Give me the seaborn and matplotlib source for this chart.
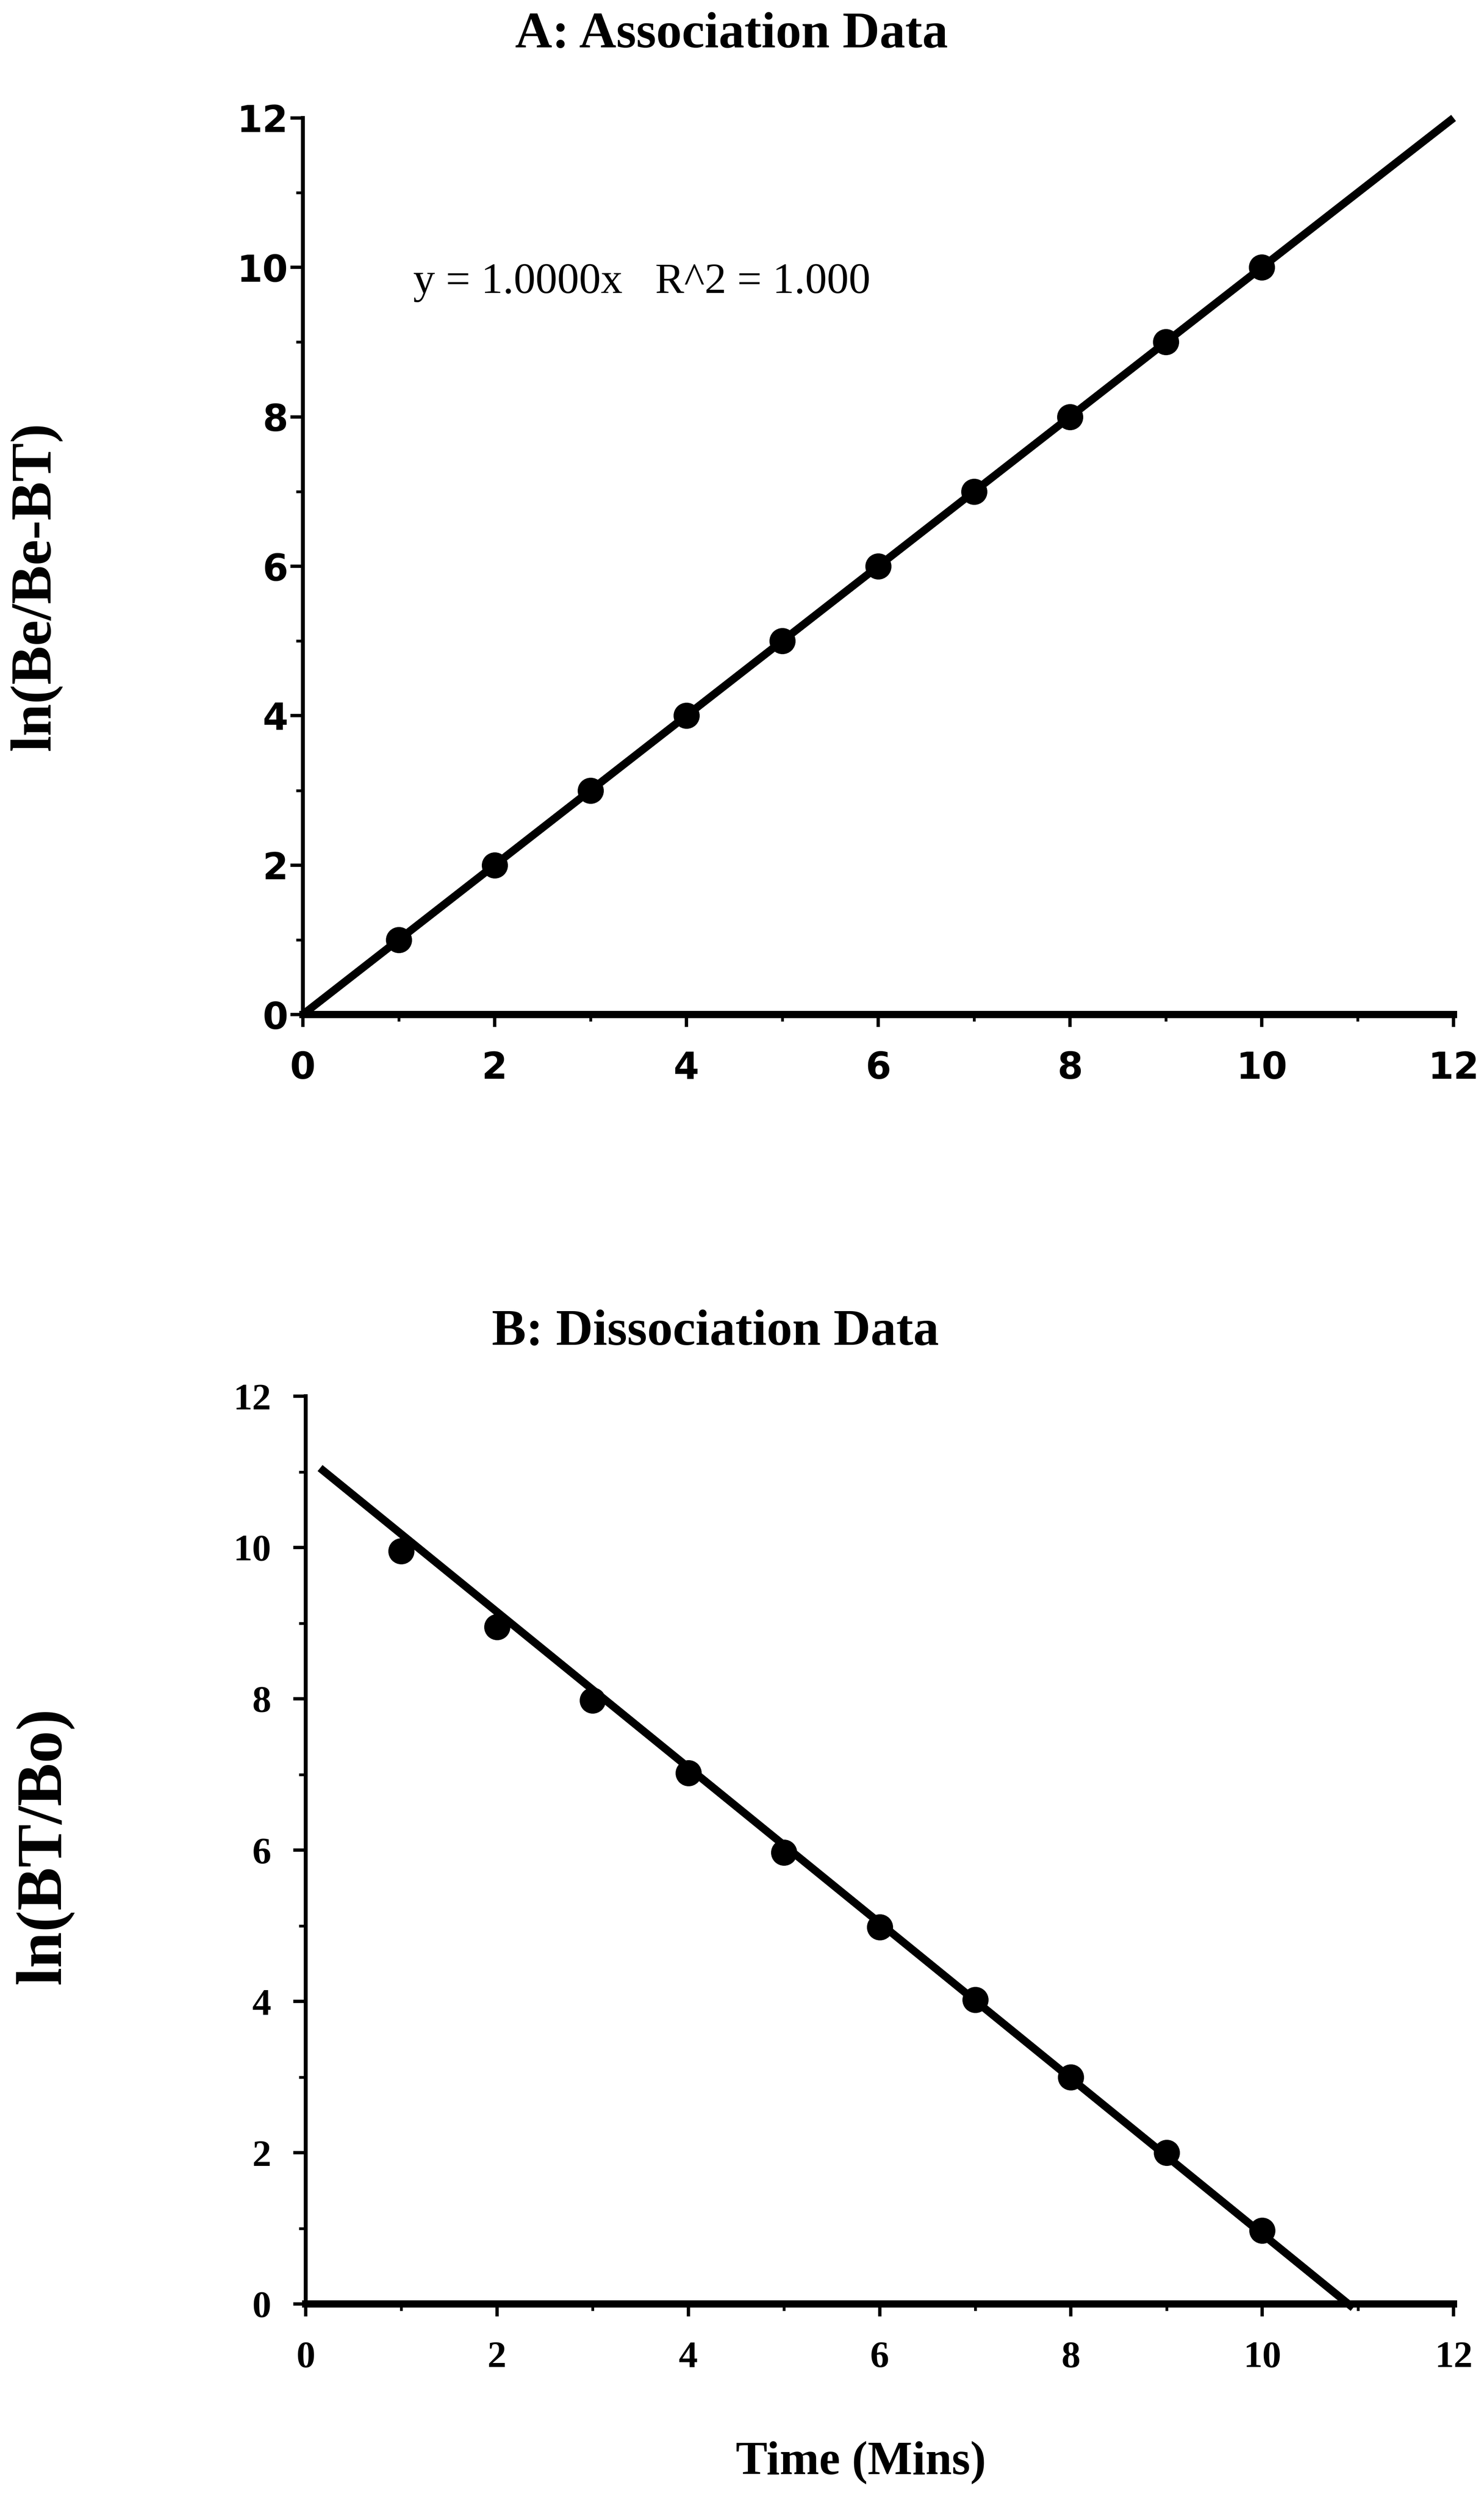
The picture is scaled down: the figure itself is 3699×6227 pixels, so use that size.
import numpy as np
import pandas as pd
import matplotlib
matplotlib.use("Agg")
import matplotlib.pyplot as plt
import seaborn as sns
from matplotlib.ticker import MultipleLocator

# ---------------- data ----------------
assoc_time = [1, 2, 3, 4, 5, 6, 7, 8, 9, 10]
assoc_ln = [1, 2, 3, 4, 5, 6, 7, 8, 9, 10]
assoc_fit_x = [0, 12]
assoc_fit_y = [0, 12]

dissoc_time = [1, 2, 3, 4, 5, 6, 7, 8, 9, 10]
dissoc_ln = [9.95, 8.95, 7.98, 7.02, 5.97, 4.98, 4.02, 3.0, 2.0, 0.97]
dissoc_fit_x = [0.15, 10.95]
dissoc_fit_y = [11.05, -0.05]

x_ticks = [0, 2, 4, 6, 8, 10, 12]
y_ticks = [0, 2, 4, 6, 8, 10, 12]

title_a = "A: Association Data"
title_b = "B: Dissociation Data"
ylabel_a = "ln(Be/Be-BT)"
ylabel_b = "ln(BT/Bo)"
xlabel_b = "Time (Mins)"
equation_a = "y = 1.0000x   R^2 = 1.000"

# ---------------- style ----------------
sns.set_theme(style="ticks")
plt.rcParams["font.family"] = ["DejaVu Sans"]
plt.rcParams["axes.facecolor"] = "white"
plt.rcParams["figure.facecolor"] = "white"
plt.rcParams["text.color"] = "black"
plt.rcParams["xtick.color"] = "black"
plt.rcParams["ytick.color"] = "black"
plt.rcParams["xtick.labelcolor"] = "black"
plt.rcParams["ytick.labelcolor"] = "black"

DPI = 100
fig = plt.figure(figsize=(3699 / DPI, 6227 / DPI), dpi=DPI)

ax_a = fig.add_axes([0.204, 0.594, 0.7755, 0.3588])
ax_b = fig.add_axes([0.206, 0.078, 0.7735, 0.3633])

serif = ["Liberation Serif", "DejaVu Serif"]

df_a = pd.DataFrame({"t": assoc_time, "v": assoc_ln})
df_af = pd.DataFrame({"t": assoc_fit_x, "v": assoc_fit_y})
df_b = pd.DataFrame({"t": dissoc_time, "v": dissoc_ln})
df_bf = pd.DataFrame({"t": dissoc_fit_x, "v": dissoc_fit_y})

for ax, pts, fit in [(ax_a, df_a, df_af), (ax_b, df_b, df_bf)]:
    sns.lineplot(data=fit, x="t", y="v", ax=ax, color="black", linewidth=14,
                 solid_capstyle="butt", clip_on=False, zorder=3)
    sns.scatterplot(data=pts, x="t", y="v", ax=ax, color="black", s=2200,
                    edgecolor="black", linewidth=0, zorder=4, clip_on=False)
    ax.set_xlim(0, 12)
    ax.set_ylim(0, 12)
    ax.set_xticks(x_ticks)
    ax.set_yticks(y_ticks)
    ax.xaxis.set_minor_locator(MultipleLocator(1))
    ax.yaxis.set_minor_locator(MultipleLocator(1))
    for s in ["top", "right"]:
        ax.spines[s].set_visible(False)
    ax.spines["bottom"].set_linewidth(13)
    ax.spines["left"].set_linewidth(7)
    ax.spines["bottom"].set_color("black")
    ax.spines["left"].set_color("black")
    ax.tick_params(axis="both", which="major", direction="out", length=22, width=6,
                   color="black", pad=22)
    ax.tick_params(axis="both", which="minor", direction="out", length=12, width=5,
                   color="black")
    ax.set_xlabel("")
    ax.set_ylabel("")

# panel A: sans-serif bold tick labels
for lab in ax_a.get_xticklabels() + ax_a.get_yticklabels():
    lab.set_fontfamily(["DejaVu Sans"])
    lab.set_fontweight("bold")
    lab.set_fontsize(66)
ax_a.tick_params(axis="x", which="major", pad=42)
ax_a.tick_params(axis="y", which="major", pad=4)

# panel B: serif bold tick labels
for lab in ax_b.get_xticklabels() + ax_b.get_yticklabels():
    lab.set_fontfamily(serif)
    lab.set_fontweight("bold")
    lab.set_fontsize(68)
ax_b.tick_params(axis="x", which="major", pad=44)
ax_b.tick_params(axis="y", which="major", pad=40)

fig.text(0.493, 1 - 22 / 1568, title_a, fontfamily=serif, fontweight="bold",
         fontsize=92, ha="center", va="center")
fig.text(0.482, 1 - 836 / 1568, title_b, fontfamily=serif, fontweight="bold",
         fontsize=92, ha="center", va="center")

ax_a.text(1.15, 9.8, equation_a, fontfamily=serif, fontsize=78, va="center", ha="left")

fig.text(0.024, 1 - 368 / 1568, ylabel_a, rotation=90, fontfamily=serif,
         fontweight="bold", fontsize=104, ha="center", va="center")
fig.text(0.030, 1 - 1158 / 1568, ylabel_b, rotation=90, fontfamily=serif,
         fontweight="bold", fontsize=116, ha="center", va="center")
fig.text(0.58, 1 - 1545 / 1568, xlabel_b, fontfamily=serif, fontweight="bold",
         fontsize=85, ha="center", va="center")

fig.savefig("out.png", dpi=DPI)
